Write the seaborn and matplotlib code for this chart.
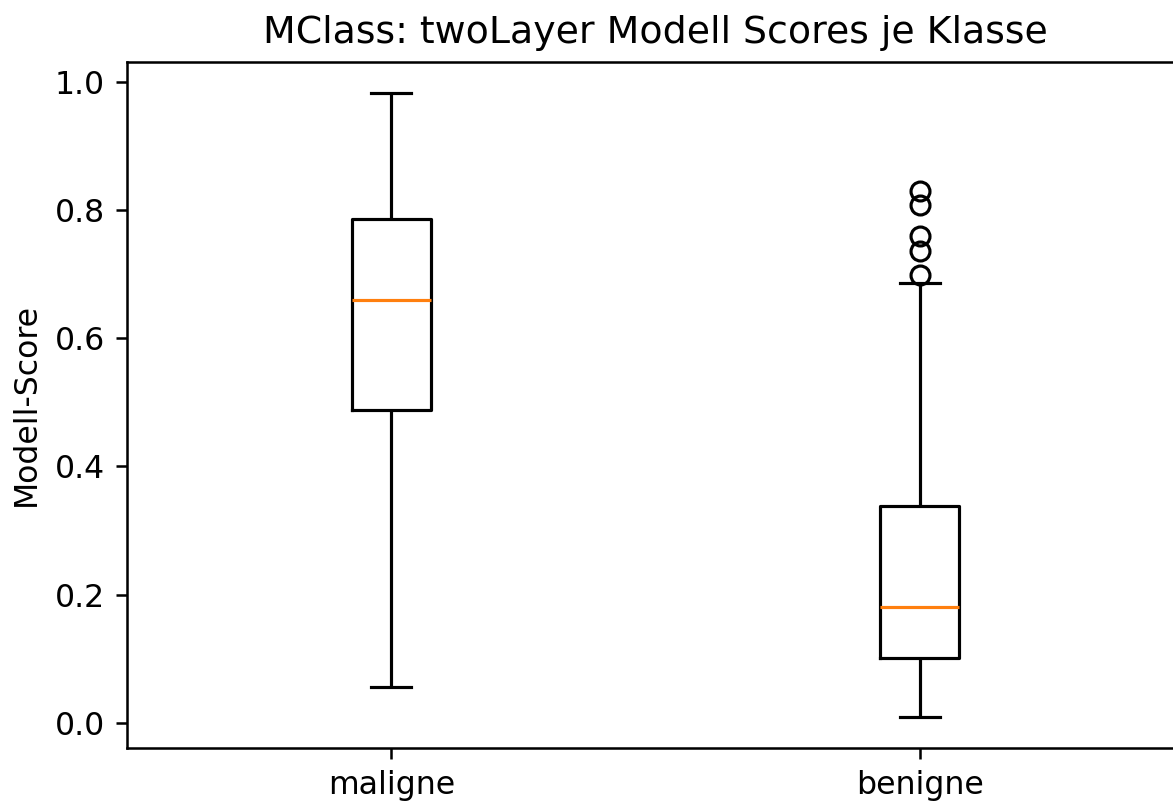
import numpy as np
import pandas as pd
import matplotlib
matplotlib.use("Agg")
import matplotlib.pyplot as plt
import seaborn as sns

# Data (box statistics per class)
classes = ["maligne", "benigne"]
whisker_low = [0.056, 0.0093]
q1 = [0.4875, 0.101]
median = [0.659, 0.181]
q3 = [0.786, 0.338]
whisker_high = [0.982, 0.686]
outliers = [[], [0.829, 0.808, 0.759, 0.736, 0.699]]

# Build sample lists that reproduce those box statistics
rows = []
for i, c in enumerate(classes):
    vals = ([whisker_low[i]] + [q1[i]] * 6 + [median[i]] * 6 + [q3[i]] * 6
            + [whisker_high[i]] + outliers[i])
    rows += [(c, v) for v in vals]
df = pd.DataFrame(rows, columns=["Klasse", "Score"])

DPI = 227
fig = plt.figure(figsize=(1173 / DPI, 801 / DPI), dpi=DPI)
ax = fig.add_axes([127 / 1173, 53 / 801, 1057 / 1173, 686 / 801])

sns.boxplot(
    data=df, x="Klasse", y="Score", order=classes, ax=ax,
    fill=False, color="black", width=0.15, linewidth=1.0, whis=1.5,
    fliersize=6,
    medianprops={"color": "#ff7f0e", "linewidth": 1.0},
    flierprops={"marker": "o", "markerfacecolor": "none",
                "markeredgecolor": "black", "markeredgewidth": 1.0},
)

ax.set_xlabel("")
ax.set_ylabel("Modell-Score")
ax.set_title("MClass: twoLayer Modell Scores je Klasse", fontsize=12)
ax.set_xlim(-0.5, 1.5)

fig.savefig("out.png", dpi=DPI)
